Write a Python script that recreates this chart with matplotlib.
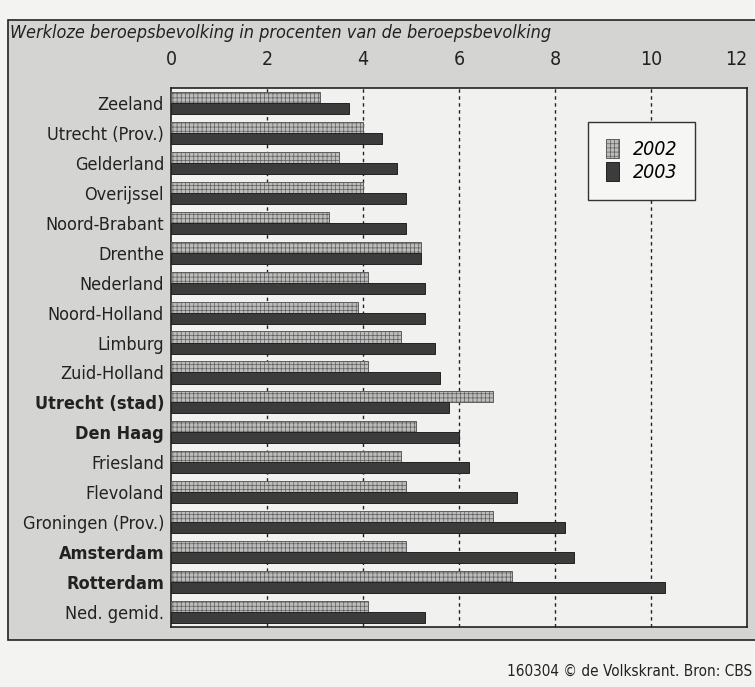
"""Werkloze beroepsbevolking 2002/2003 - recreated newspaper bar chart."""
import matplotlib
matplotlib.use("Agg")
import matplotlib.pyplot as plt
import numpy as np
from matplotlib import font_manager
from matplotlib.patches import Rectangle

regions = [
    "Zeeland", "Utrecht (Prov.)", "Gelderland", "Overijssel", "Noord-Brabant",
    "Drenthe", "Nederland", "Noord-Holland", "Limburg", "Zuid-Holland",
    "Utrecht (stad)", "Den Haag", "Friesland", "Flevoland", "Groningen (Prov.)",
    "Amsterdam", "Rotterdam", "Ned. gemid.",
]
bold_regions = ["Utrecht (stad)", "Den Haag", "Amsterdam", "Rotterdam"]
values_2002 = [3.1, 4.0, 3.5, 4.0, 3.3, 5.2, 4.1, 3.9, 4.8, 4.1,
               6.7, 5.1, 4.8, 4.9, 6.7, 4.9, 7.1, 4.1]
values_2003 = [3.7, 4.4, 4.7, 4.9, 4.9, 5.2, 5.3, 5.3, 5.5, 5.6,
               5.8, 6.0, 6.2, 7.2, 8.2, 8.4, 10.3, 5.3]
x_ticks = [0, 2, 4, 6, 8, 10, 12]
years = ["2002", "2003"]

# pick a condensed face if one is installed
names = {f.name for f in font_manager.fontManager.ttflist}
family = "Liberation Sans Narrow" if "Liberation Sans Narrow" in names else "DejaVu Sans"
stretch = "normal" if family == "Liberation Sans Narrow" else "condensed"
plt.rcParams["font.family"] = [family, "DejaVu Sans"]
plt.rcParams["font.stretch"] = stretch
plt.rcParams["hatch.linewidth"] = 0.5

fig = plt.figure(figsize=(7.55, 6.87), dpi=100)
fig.patch.set_facecolor("#f3f3f1")

# grey panel behind the chart
bg = fig.add_axes([0, 0, 1, 1], zorder=-5)
bg.set_axis_off()
bg.set_xlim(0, 755)
bg.set_ylim(687, 0)
bg.add_patch(Rectangle((8, 20), 760, 620, facecolor="#d4d4d2",
                       edgecolor="#222222", linewidth=1.2))

ax = fig.add_axes([171 / 755, 1 - 627 / 687, (747 - 171) / 755, (627 - 88) / 687])
ax.set_facecolor("#f1f1ef")

y = np.arange(len(regions))
h = 0.37
ax.barh(y - h / 2, values_2002, height=h, color="#bdbdbb", edgecolor="#5e5e5e",
        hatch="++++", linewidth=0.7, zorder=3, label=years[0])
ax.barh(y + h / 2, values_2003, height=h, color="#3c3c3c", edgecolor="#222222",
        linewidth=0.7, zorder=3, label=years[1])

ax.set_xlim(0, 12)
ax.set_ylim(len(regions) - 0.5, -0.5)
ax.set_xticks(x_ticks)
ax.xaxis.tick_top()
ax.tick_params(axis="x", length=0, pad=14, labelsize=14, colors="#222222")
ax.tick_params(axis="y", length=0, pad=5, labelsize=13, colors="#222222")
ax.set_yticks(y)
ax.set_yticklabels(regions)
for lbl in ax.get_yticklabels():
    if lbl.get_text() in bold_regions:
        lbl.set_fontweight("bold")
ax.get_xticklabels()[-1].set_horizontalalignment("right")

for xv in x_ticks[1:-1]:
    ax.axvline(xv, color="#222222", linestyle=(0, (2.5, 2.5)), linewidth=1.0, zorder=1)

for side in ["top", "bottom", "left", "right"]:
    ax.spines[side].set_color("#222222")
    ax.spines[side].set_linewidth(1.2)

leg = ax.legend(loc="upper left", bbox_to_anchor=((588 - 171) / 576, 1 - (122 - 88) / 539),
                borderaxespad=0, frameon=True, fancybox=False, edgecolor="#333333",
                framealpha=1, facecolor="#f6f6f4", handlelength=0.7, handleheight=1.1,
                borderpad=0.9, labelspacing=0.15, handletextpad=0.7,
                prop={"size": 14, "style": "italic"})
leg.get_frame().set_linewidth(1.0)

fig.text(10 / 755, 1 - 33 / 687, "Werkloze beroepsbevolking in procenten van de beroepsbevolking",
         fontsize=13, style="italic", color="#222222", va="center", ha="left")
fig.text(752 / 755, 1 - 671 / 687, "160304 © de Volkskrant. Bron: CBS",
         fontsize=11, color="#222222", va="center", ha="right")

fig.savefig("out.png", dpi=100, facecolor=fig.get_facecolor())
